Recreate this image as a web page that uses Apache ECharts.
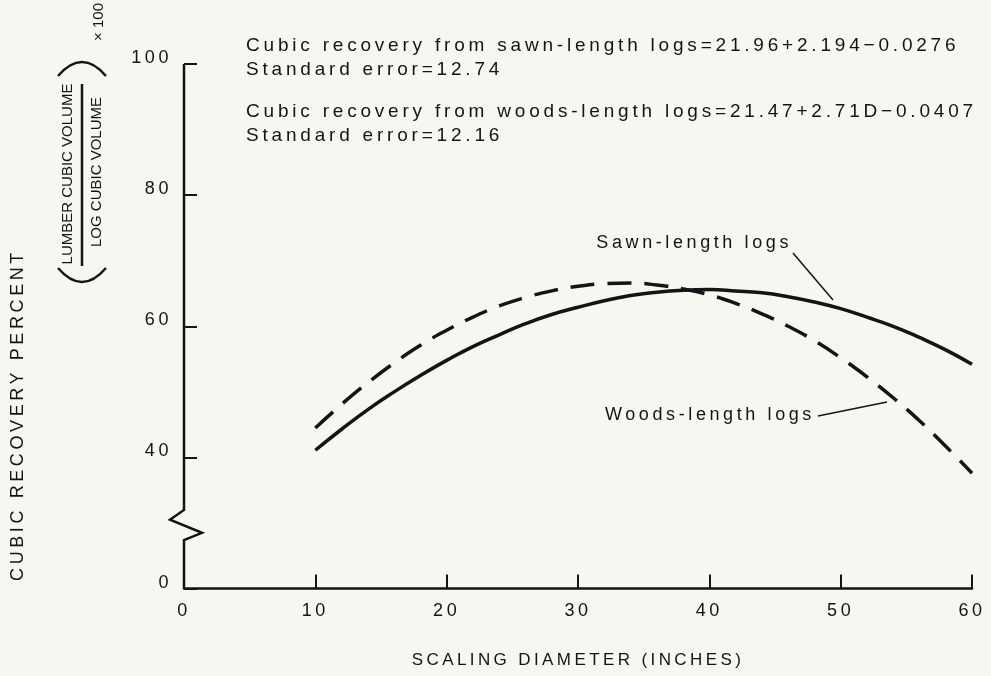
<!DOCTYPE html>
<html>
<head>
<meta charset="utf-8">
<script src="https://cdn.jsdelivr.net/npm/echarts@6/dist/echarts.min.js"></script>
<style>
  html, body { margin: 0; padding: 0; background: #f7f6f1; }
  #main { width: 991px; height: 676px; }
</style>
</head>
<body>
<div id="main"></div>
<script>
// scaling diameter (inches)
var diameters = [10, 12, 14, 16, 18, 20, 22, 24, 26, 28, 30, 32, 34, 36, 38, 40, 42, 44, 46, 48, 50, 52, 54, 56, 58, 60];
// cubic recovery percent
var sawnLength = [41.1, 44.3, 47.3, 50.0, 52.5, 54.8, 56.9, 58.7, 60.4, 61.8, 62.9, 63.9, 64.7, 65.2, 65.5, 65.6, 65.4, 65.1, 64.5, 63.7, 62.7, 61.4, 60.0, 58.3, 56.4, 54.2];
var woodsLength = [44.5, 48.1, 51.4, 54.4, 57.1, 59.4, 61.4, 63.1, 64.4, 65.4, 66.1, 66.5, 66.6, 66.3, 65.7, 64.8, 63.5, 61.9, 60.0, 57.8, 55.2, 52.3, 49.1, 45.6, 41.7, 37.6];
// y axis is broken: the bottom tick stands for 0
var yTickValues = [20, 40, 60, 80, 100];
var yTickLabels = ['0', '40', '60', '80', '100'];
var notes = [
  'Cubic recovery from sawn-length logs=21.96+2.194\u22120.0276',
  'Standard error=12.74',
  'Cubic recovery from woods-length logs=21.47+2.71D\u22120.0407',
  'Standard error=12.16'
];

var ink = '#141414';
var font = 'Liberation Sans';

// the old print uses wide letter spacing, canvas can do that with ctx.letterSpacing
(function () {
  var proto = CanvasRenderingContext2D.prototype;
  var fill = proto.fillText, measure = proto.measureText;
  function track(ctx) {
    var m = /([\d.]+)px/.exec(ctx.font);
    var size = m ? parseFloat(m[1]) : 0;
    ctx.letterSpacing = size >= 16 ? (size * 0.2).toFixed(1) + 'px' : '0px';
  }
  proto.fillText = function () { track(this); return fill.apply(this, arguments); };
  proto.measureText = function () { track(this); return measure.apply(this, arguments); };
})();

var chart = echarts.init(document.getElementById('main'));

var option = {
  backgroundColor: '#f7f6f1',
  animation: false,
  textStyle: { fontFamily: font, color: ink },
  grid: { left: 184, right: 19, top: 64, bottom: 85 },
  xAxis: {
    type: 'value',
    min: 0,
    max: 60,
    interval: 10,
    name: 'SCALING DIAMETER (INCHES)',
    nameLocation: 'middle',
    nameGap: 62,
    nameTextStyle: { fontSize: 17, color: ink, fontFamily: font },
    axisLine: { lineStyle: { color: ink, width: 2.5 } },
    axisTick: { inside: true, length: 14, lineStyle: { color: ink, width: 2 } },
    axisLabel: { fontSize: 18, color: ink, margin: 12 },
    splitLine: { show: false }
  },
  yAxis: {
    type: 'value',
    min: 20,
    max: 100,
    interval: 20,
    axisLine: { show: false },
    axisTick: { inside: true, length: 13, lineStyle: { color: ink, width: 2 } },
    axisLabel: {
      fontSize: 18,
      color: ink,
      margin: 12,
      verticalAlign: 'bottom',
      lineHeight: 12,
      formatter: function (v) { return yTickLabels[yTickValues.indexOf(v)]; }
    },
    splitLine: { show: false }
  },
  series: [
    {
      name: 'Sawn-length logs',
      type: 'line',
      smooth: true,
      showSymbol: false,
      lineStyle: { color: ink, width: 3.5 },
      data: diameters.map(function (d, i) { return [d, sawnLength[i]]; })
    },
    {
      name: 'Woods-length logs',
      type: 'line',
      smooth: true,
      showSymbol: false,
      lineStyle: { color: ink, width: 3.5, type: [24, 13] },
      data: diameters.map(function (d, i) { return [d, woodsLength[i]]; })
    }
  ]
};
chart.setOption(option);

// y axis line with the break zigzag between 0 and 40
var top_ = chart.convertToPixel({ gridIndex: 0 }, [0, 100]);
var bot = chart.convertToPixel({ gridIndex: 0 }, [0, 20]);
var ax = top_[0];
function py(v) { return chart.convertToPixel({ gridIndex: 0 }, [0, v])[1]; }
var axisPts = [
  [ax, top_[1]], [ax, py(32)], [ax - 14, py(30.5)], [ax + 18, py(28.5)], [ax, py(27.4)], [ax, bot[1]]
];

function txt(text, x, y, size, opts) {
  opts = opts || {};
  return {
    type: 'text',
    x: x,
    y: y,
    rotation: opts.rotation || 0,
    style: {
      text: text,
      fill: ink,
      fontSize: size,
      fontFamily: font,
      align: opts.align || 'left',
      verticalAlign: 'middle'
    }
  };
}
function seg(x1, y1, x2, y2, w) {
  return { type: 'line', shape: { x1: x1, y1: y1, x2: x2, y2: y2 }, style: { stroke: ink, lineWidth: w || 1.5 } };
}

var graphics = [
  { type: 'polyline', shape: { points: axisPts }, style: { stroke: ink, lineWidth: 2.5, fill: null } },
  txt(notes[0], 246, 46, 19),
  txt(notes[1], 246, 70, 19),
  txt(notes[2], 246, 112, 19),
  txt(notes[3], 246, 136, 19),
  txt('Sawn-length logs', 792, 243, 18, { align: 'right' }),
  seg(793, 253, 833, 300),
  txt('Woods-length logs', 605, 415, 18),
  seg(818, 416, 887, 402),
  // y axis title
  txt('CUBIC RECOVERY PERCENT', 18, 415, 18, { rotation: Math.PI / 2, align: 'center' }),
  txt('LUMBER CUBIC VOLUME', 68, 174, 15, { rotation: Math.PI / 2, align: 'center' }),
  seg(82, 266, 82, 84, 2.5),
  txt('LOG CUBIC VOLUME', 97, 172, 15, { rotation: Math.PI / 2, align: 'center' }),
  { type: 'bezierCurve', shape: { x1: 58, y1: 268, x2: 106, y2: 268, cpx1: 82, cpy1: 296 }, style: { stroke: ink, lineWidth: 2.5, fill: null } },
  { type: 'bezierCurve', shape: { x1: 58, y1: 76, x2: 106, y2: 76, cpx1: 82, cpy1: 48 }, style: { stroke: ink, lineWidth: 2.5, fill: null } },
  txt('\u00d7 100', 99, 22, 15, { rotation: Math.PI / 2, align: 'center' })
];

chart.setOption({ graphic: graphics });
</script>
</body>
</html>
